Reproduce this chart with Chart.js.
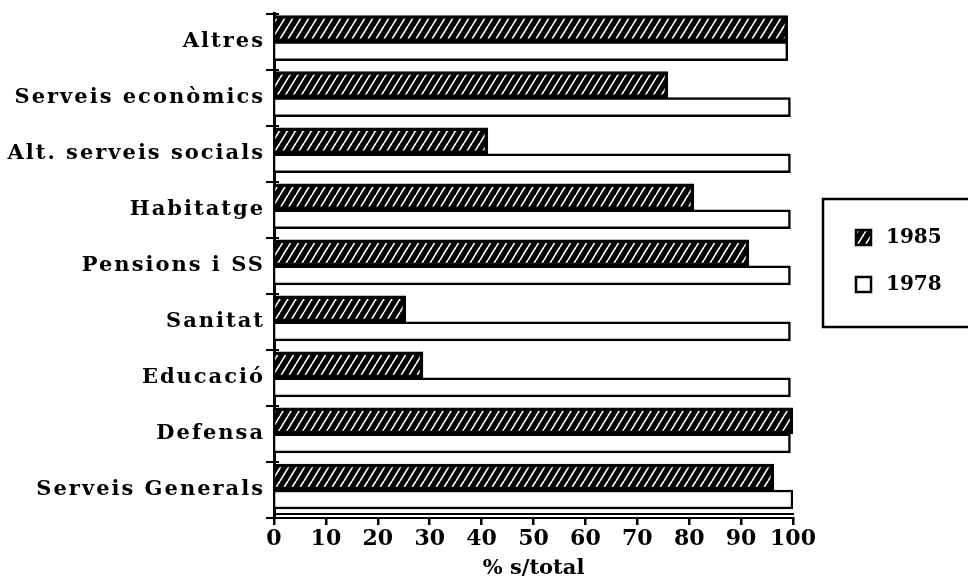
<!DOCTYPE html>
<html lang="ca">
<head>
<meta charset="UTF-8">
<title>Despesa per funcions</title>
<style>
    body { margin: 0; background: #fff; }
    .chart-box { width: 968px; height: 584px; }
</style>
</head>
<body>
<div class="chart-box"><canvas id="grafic"></canvas></div>

<script src="https://cdn.jsdelivr.net/npm/chart.js"></script>
<script>
    // dades llegides del grafic
    const categories = ['Altres', 'Serveis econòmics', 'Alt. serveis socials', 'Habitatge',
        'Pensions i SS', 'Sanitat', 'Educació', 'Defensa', 'Serveis Generals'];
    const valors1985 = [99, 75.9, 41.2, 80.9, 91.5, 25.4, 28.7, 100, 96.3];
    const valors1978 = [99, 99.5, 99.5, 99.5, 99.5, 99.5, 99.5, 99.5, 100];
    const anys = ['1985', '1978'];
    const xTicks = [0, 10, 20, 30, 40, 50, 60, 70, 80, 90, 100];
    const titolX = '% s/total';

    const FONT = { family: '"DejaVu Serif", serif', weight: 'bold', size: 21 };
    const FONT_X = { family: '"DejaVu Serif", serif', weight: 'bold', size: 22 };

    // trama de ratlles blanques sobre negre
    function patroRatllat() {
        const c = document.createElement('canvas');
        c.width = 8; c.height = 13;
        const x = c.getContext('2d');
        x.fillStyle = '#000';
        x.fillRect(0, 0, 8, 13);
        x.strokeStyle = '#fff';
        x.lineWidth = 1.6;
        for (const dx of [-8, 0, 8]) {
            x.beginPath();
            x.moveTo(dx, 13);
            x.lineTo(dx + 8, 0);
            x.stroke();
        }
        return x.createPattern(c, 'repeat');
    }
    const ratllat = patroRatllat();

    // petites marques que creuen l'eix y + doble linia de l'eix x
    const marquesEixos = {
        id: 'marquesEixos',
        afterDraw(chart) {
            const ctx = chart.ctx, ya = chart.scales.y, ca = chart.chartArea;
            ctx.save();
            ctx.strokeStyle = '#000';
            ctx.lineWidth = 2;
            for (let i = 0; i <= categories.length; i++) {
                const y = Math.round(ya.getPixelForValue(i - 0.5));
                ctx.beginPath();
                ctx.moveTo(ca.left, y);
                ctx.lineTo(ca.left + 5, y);
                ctx.stroke();
            }
            ctx.beginPath();
            ctx.moveTo(ca.left, ca.bottom - 4);
            ctx.lineTo(ca.right + 1, ca.bottom - 4);
            ctx.stroke();
            ctx.restore();
        }
    };

    // espaiat de lletres per a les etiquetes de categoria
    const espaiat = {
        id: 'espaiat',
        beforeDraw(chart) {
            const ya = chart.scales.y;
            if (ya._espaiat) return;
            const orig = ya.drawLabels;
            ya.drawLabels = function (area) {
                const prev = this.ctx.letterSpacing;
                this.ctx.letterSpacing = '2px';
                orig.call(this, area);
                this.ctx.letterSpacing = prev;
            };
            ya._espaiat = true;
        }
    };

    // llegenda amb marc, a la dreta
    const llegenda = {
        id: 'llegenda',
        afterDraw(chart) {
            const ctx = chart.ctx;
            ctx.save();
            ctx.strokeStyle = '#000';
            ctx.lineWidth = 2.5;
            ctx.strokeRect(823, 199, 160, 128);
            ctx.font = 'bold 20px "DejaVu Serif", serif';
            ctx.textBaseline = 'middle';
            chart.data.datasets.forEach((ds, i) => {
                const y = 230 + i * 47;
                ctx.fillStyle = ds.backgroundColor;
                ctx.fillRect(856, y, 15, 15);
                ctx.lineWidth = 2.5;
                ctx.strokeRect(856, y, 15, 15);
                ctx.fillStyle = '#000';
                ctx.fillText(ds.label, 886, y + 8);
            });
            ctx.restore();
        }
    };

    new Chart(document.getElementById('grafic'), {
        type: 'bar',
        data: {
            labels: categories,
            datasets: [{
                label: anys[0],
                data: valors1985,
                backgroundColor: ratllat,
                borderColor: '#000',
                borderWidth: 3.5,
                barThickness: 26
            }, {
                label: anys[1],
                data: valors1978,
                backgroundColor: '#fff',
                borderColor: '#000',
                borderWidth: 2.5,
                barThickness: 19
            }]
        },
        options: {
            indexAxis: 'y',
            responsive: true,
            maintainAspectRatio: false,
            animation: false,
            layout: { padding: { top: 13, right: 175, left: 0, bottom: 0 } },
            plugins: {
                legend: { display: false },
                tooltip: { enabled: false }
            },
            scales: {
                x: {
                    min: 0,
                    max: 100,
                    afterFit: s => { s.height = 66; },
                    afterBuildTicks: s => { s.ticks = xTicks.map(v => ({ value: v })); },
                    grid: { drawOnChartArea: false, color: '#000', lineWidth: 2.5, tickLength: 7 },
                    border: { color: '#000', width: 2 },
                    ticks: { color: '#000', font: FONT_X, padding: 1, maxRotation: 0 },
                    title: { display: true, text: titolX, color: '#000', font: FONT, padding: { top: 0, bottom: 3 } }
                },
                y: {
                    afterFit: s => { s.width = 274; },
                    grid: { drawOnChartArea: false, color: '#000', lineWidth: 2, tickLength: 8 },
                    border: { color: '#000', width: 3 },
                    ticks: { color: '#000', font: FONT, padding: 1 }
                }
            }
        },
        plugins: [marquesEixos, espaiat, llegenda]
    });
</script>
</body>
</html>
